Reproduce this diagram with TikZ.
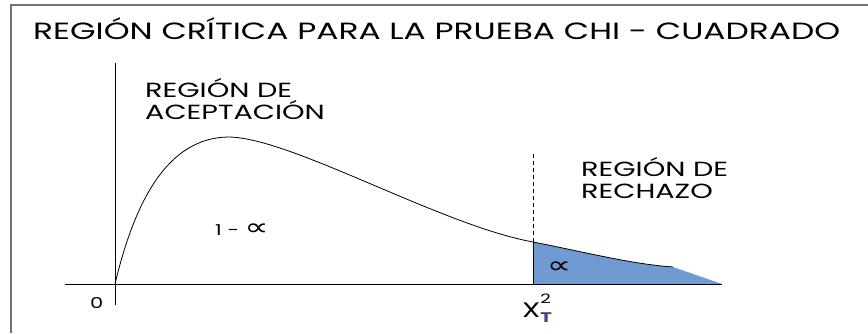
\documentclass[tikz,border=0pt]{standalone}
\usepackage{fontspec}
\setmainfont{Poppins}[FakeStretch=1.4]
\newfontfamily\simbolo{DejaVu Sans}
\usepackage{tikz}
\definecolor{azulrechazo}{RGB}{111,155,210}
\definecolor{violetaT}{RGB}{88,58,140}

\begin{document}
\begin{tikzpicture}[x=1pt,y=-1pt]
    % Estilos (MODIFICABLES)
    \tikzstyle{eje}=[line width=1pt]
    \tikzstyle{curva}=[line width=0.8pt]
    \tikzstyle{marco}=[draw=black!55,line width=1.6pt]
    \tikzstyle{titulo}=[anchor=base west,inner sep=0pt,font=\fontsize{23.5}{26}\selectfont]
    \tikzstyle{rotulo}=[anchor=base west,inner sep=0pt,font=\fontsize{20.5}{22}\selectfont]
    \tikzstyle{cifra}=[anchor=base west,inner sep=0pt,font=\fontsize{15}{16}\selectfont]
    \def\Alfa{{\simbolo\fontsize{24}{24}\selectfont\scalebox{1.4}[1]{∝}}}
    % Marco y limites
    \useasboundingbox (0,0) rectangle (868,333);
    \draw[marco] (11,333) -- (11,5) -- (868,5);
    % Puntos (MODIFICABLES)
    \coordinate (O) at (115,284);
    \coordinate (Xfin) at (722,284);
    \coordinate (Xini) at (65,284);
    \coordinate (Yfin) at (115,63);
    \coordinate (Yini) at (115,305);
    \coordinate (M) at (228,137);
    \coordinate (C) at (533,242);
    \coordinate (Cbase) at (533,284);
    \coordinate (Ctope) at (533,152);
    \coordinate (Cola) at (673,267);
    % Region de rechazo
    \fill[azulrechazo] (Cbase) -- (C) .. controls (580,251) and (630,264) .. (Cola)
        -- (Xfin) -- cycle;
    % Ejes
    \draw[eje] (Xini) -- (Xfin);
    \draw[eje] (Yini) -- (Yfin);
    % Curva
    \draw[curva] (O) .. controls (135,200) and (168,138) .. (M)
        .. controls (290,137) and (440,225) .. (C)
        .. controls (580,251) and (630,264) .. (Cola);
    \draw[eje] (Cbase) -- (C);
    \draw[eje,dash pattern=on 4pt off 3pt] (C) -- (Ctope);
    % Textos
    \node[titulo] (tit) at (33,39) {REGIÓN CRÍTICA PARA LA PRUEBA CHI - CUADRADO};
    \node[rotulo] (acepA) at (145,97) {REGIÓN DE};
    \node[rotulo] (acepB) at (145,119) {ACEPTACIÓN};
    \node[rotulo] (rechA) at (581,176) {REGIÓN DE};
    \node[rotulo] (rechB) at (581,198) {RECHAZO};
    \node[cifra] (unomenos) at (215,235) {1 - \Alfa};
    \node[cifra] (alfa) at (547,273) {\Alfa};
    \node[cifra] (cero) at (90,308) {0};
    \node[cifra,font=\fontsize{21}{22}\selectfont] (chi) at (522,317)
        {X\rlap{\raisebox{14pt}{\fontsize{13}{13}\selectfont 2}}\raisebox{-5pt}{\fontsize{14}{14}\selectfont\color{violetaT}\textbf{T}}};
\end{tikzpicture}
\end{document}
